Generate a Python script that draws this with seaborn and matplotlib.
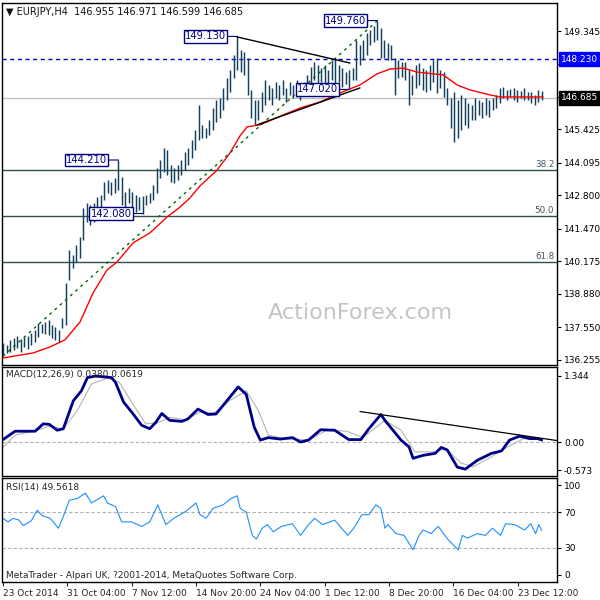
import numpy as np
import matplotlib
matplotlib.use("Agg")
import matplotlib.pyplot as plt
import matplotlib.transforms as mtransforms
import seaborn as sns

# ---------------- data ----------------
# price bars: one sample every ~1.74 H4 bars
high = [136.93, 136.85, 137.05, 137.13, 137.21, 137.09, 137.17, 137.21, 137.33, 137.45,
        137.73, 137.69, 137.77, 137.85, 137.65, 137.57, 137.45, 137.93, 139.32, 140.63,
        140.43, 140.83, 141.15, 142.30, 142.50, 142.42, 142.50, 142.74, 142.82, 143.34,
        143.42, 143.34, 143.50, 144.21, 143.54, 142.94, 143.10, 142.94, 142.82, 142.74,
        142.78, 142.82, 142.90, 143.22, 143.90, 144.21, 144.69, 144.61, 144.01, 143.90,
        144.01, 144.21, 144.53, 144.69, 145.01, 145.41, 146.40, 145.61, 145.49, 145.80,
        146.28, 146.60, 146.68, 147.08, 147.48, 147.79, 148.39, 149.13, 148.59, 148.51,
        148.27, 147.00, 146.60, 146.60, 146.92, 147.40, 147.20, 147.08, 147.32, 147.20,
        147.40, 147.08, 147.32, 147.20, 147.40, 147.28, 147.32, 147.60, 147.91, 148.11,
        147.99, 147.87, 147.99, 147.79, 148.19, 148.27, 147.99, 147.87, 147.71, 147.79,
        147.87, 148.99, 148.79, 148.99, 149.27, 149.39, 149.55, 149.76, 149.47, 148.99,
        148.87, 148.79, 148.27, 148.19, 148.11, 148.11, 147.79, 147.60, 147.99, 148.07,
        147.87, 147.79, 147.99, 148.19, 148.27, 147.79, 147.71, 147.08, 146.68, 146.92,
        146.60, 146.80, 146.68, 146.48, 146.40, 146.68, 146.60, 146.52, 146.68, 146.60,
        146.68, 146.80, 147.08, 147.12, 147.00, 147.04, 147.08, 147.00, 146.96, 147.08,
        146.92, 146.92, 146.80, 147.00, 146.97]
low = [136.41, 136.53, 136.57, 136.65, 136.73, 136.57, 136.77, 136.69, 136.85, 136.97,
       137.17, 137.33, 137.29, 137.25, 137.13, 137.05, 136.97, 137.53, 137.65, 139.44,
       139.92, 140.15, 140.31, 141.03, 141.75, 141.63, 141.75, 142.03, 142.22, 142.62,
       142.90, 142.82, 142.90, 143.02, 142.42, 142.34, 142.50, 142.22, 142.14, 142.22,
       142.08, 142.42, 142.50, 142.62, 142.90, 143.50, 143.74, 143.62, 143.34, 143.30,
       143.42, 143.62, 143.82, 144.01, 144.29, 144.61, 145.01, 145.09, 145.09, 145.21,
       145.41, 145.73, 145.88, 146.20, 146.60, 146.92, 147.48, 147.79, 147.71, 147.60,
       146.80, 145.88, 145.61, 145.80, 146.12, 146.40, 146.60, 146.40, 146.68, 146.60,
       146.80, 146.52, 146.80, 146.68, 146.72, 146.60, 146.80, 146.92, 147.20, 147.40,
       147.00, 147.32, 147.20, 147.20, 147.40, 147.20, 147.32, 147.10, 147.24, 147.02,
       147.40, 147.40, 147.99, 148.19, 148.39, 148.79, 148.91, 148.99, 148.27, 148.27,
       148.19, 148.19, 146.80, 147.48, 147.52, 147.40, 146.40, 146.80, 147.08, 147.20,
       147.00, 146.92, 147.00, 147.32, 146.88, 147.08, 146.72, 146.40, 145.49, 144.93,
       145.09, 145.41, 145.61, 145.49, 145.80, 145.80, 146.00, 145.88, 146.00, 145.92,
       146.20, 146.28, 146.48, 146.68, 146.60, 146.72, 146.60, 146.52, 146.68, 146.60,
       146.60, 146.48, 146.40, 146.52, 146.60]
BAR_STEP = 1.741  # H4 bars per sample

# moving average (H4 bar index, price)
ma_pos = [0, 15, 23.4, 30.8, 38.3, 44.8, 51.7, 56.7, 64.7, 73.1,
          81.6, 88.1, 93.0, 98.0, 106.5, 112.9, 117.9, 121.4, 127.9, 139.3,
          147.8, 157.7, 167.7, 177.6, 186.1, 192.5, 199.0, 206.0, 213.9, 218.9,
          225.9, 232.3, 242.3, 247.3, 268.7]
ma_val = [136.33, 136.53, 136.77, 137.05, 137.76, 138.92, 139.83, 140.15, 140.91, 141.31,
          141.94, 142.34, 142.70, 143.18, 143.81, 144.49, 145.17, 145.53, 145.61, 146.00,
          146.28, 146.52, 146.88, 147.20, 147.64, 147.83, 147.87, 147.71, 147.64, 147.60,
          147.20, 147.00, 146.80, 146.72, 146.72]

# trend lines (H4 bar index, value)
green_pos, green_val = [0, 186.3], [136.40, 149.76]
upper_pos, upper_val = [116.4, 172.6], [149.11, 148.07]
lower_pos, lower_val = [126.4, 177.6], [145.61, 147.08]

# price labels: value and sample index of the bar they point at
label_vals = [149.130, 149.760, 147.020, 144.210, 142.080]
label_idx = [67, 107, 99, 33, 40]

resist_level = 148.230
last_price = 146.685
fib_levels = [143.81, 141.98, 140.15]
fib_names = ["38.2", "50.0", "61.8"]
price_ticks = [149.345, 148.050, 146.720, 145.425, 144.095, 142.800, 141.470,
               140.175, 138.880, 137.550, 136.255]
price_ticklabels = ["149.345", "", "", "145.425", "144.095", "142.800", "141.470",
                    "140.175", "138.880", "137.550", "136.255"]

# MACD
macd_pos = [0, 6, 16, 20, 23, 27, 30, 35, 39, 42, 46, 54, 56, 60, 64, 69, 73, 76, 79, 83,
            89, 92, 97, 102, 106, 110, 117, 121, 125, 128, 132, 138, 144, 148, 152, 158,
            165, 172, 178, 182, 188, 190, 198, 202, 204, 209, 215, 218, 221, 226, 230,
            236, 243, 248, 252, 257, 262, 266, 268]
macd_val = [0.05, 0.22, 0.22, 0.37, 0.36, 0.24, 0.27, 0.84, 1.04, 1.31, 1.34, 1.31, 1.21,
            0.81, 0.61, 0.34, 0.27, 0.40, 0.58, 0.44, 0.42, 0.47, 0.67, 0.56, 0.57, 0.77,
            1.12, 0.97, 0.30, 0.04, 0.09, 0.06, 0.09, 0.00, 0.04, 0.25, 0.24, 0.05, 0.05,
            0.27, 0.56, 0.44, 0.04, -0.10, -0.33, -0.27, -0.23, -0.11, -0.16, -0.51, -0.55,
            -0.37, -0.23, -0.18, 0.04, 0.12, 0.07, 0.07, 0.04]
signal_pos = [0, 6, 17, 23, 30, 37, 44, 52, 58, 64, 71, 77, 83, 91, 98, 105, 113, 121, 127,
              132, 140, 152, 161, 171, 179, 190, 198, 205, 215, 220, 228, 234, 243, 251,
              259, 268]
signal_val = [-0.11, 0.14, 0.24, 0.32, 0.27, 0.64, 1.18, 1.30, 1.21, 0.81, 0.37, 0.39, 0.50,
              0.45, 0.61, 0.59, 0.85, 1.04, 0.64, 0.14, 0.07, 0.04, 0.24, 0.22, 0.09, 0.44,
              0.24, -0.20, -0.20, -0.13, -0.43, -0.50, -0.30, -0.10, 0.07, 0.06]
macd_trend_pos, macd_trend_val = [177.6, 275.6], [0.62, 0.03]
macd_ticks = [1.344, 0.0, -0.573]
macd_ticklabels = ["1.344", "0.00", "-0.573"]

# RSI
rsi_pos = [0, 2.5, 5, 8, 10, 14, 17, 19.5, 23.5, 27.5, 30, 33, 37, 41, 44, 50, 52, 56, 59,
           64, 69, 73, 77, 81, 85, 90.5, 96, 98, 101, 104.5, 109.5, 113.5, 116.5, 118, 121,
           124, 126, 129, 131.5, 134.5, 138.5, 144, 148, 152, 155, 159, 165, 171.5, 174.5,
           178.5, 182, 185.5, 188, 190, 191.5, 195.5, 199.5, 204, 207, 209, 213, 216.5,
           221.5, 226.5, 228.5, 231, 236, 240, 243.5, 247.5, 250, 254.5, 259.5, 262.5, 265,
           266.5, 268]
rsi_val = [63, 59, 63, 61, 55, 60, 72, 66, 63, 52, 65, 83, 85, 91, 80, 88, 80, 76, 59, 59,
           54, 59, 78, 56, 63, 70, 80, 67, 63, 74, 78, 85, 88, 74, 70, 44, 40, 52, 56, 48,
           54, 57, 44, 56, 63, 56, 61, 44, 52, 67, 67, 78, 74, 52, 56, 46, 44, 28, 44, 50,
           46, 54, 39, 28, 44, 41, 46, 44, 52, 44, 57, 56, 50, 57, 46, 56, 49.56]
rsi_ticks = [100, 70, 30, 0]

# x axis
x_tick_pos = [0, 32, 64, 96, 128, 160, 192, 224, 256]
x_tick_labels = ["23 Oct 2014", "31 Oct 04:00", "7 Nov 12:00", "14 Nov 20:00",
                 "24 Nov 04:00", "1 Dec 12:00", "8 Dec 20:00", "16 Dec 04:00",
                 "23 Dec 12:00"]

# ---------------- style ----------------
sns.set_style("white")
plt.rcParams['font.family'] = ['DejaVu Sans']
BAR = "#133f5c"
NAVY = "#000080"
FS = 6.5

W = 600.0
fig = plt.figure(figsize=(6, 6), dpi=100)
fig.patch.set_facecolor("white")


def px_axes(top, bottom, left=2, right=557):
    return fig.add_axes([left / W, 1 - bottom / W, (right - left) / W, (bottom - top) / W])


ax1 = px_axes(3, 365)
ax2 = px_axes(367, 476)
ax3 = px_axes(478, 582)

pos = np.arange(len(high)) * BAR_STEP

for ax in (ax1, ax2, ax3):
    ax.set_xlim(-0.5, 275.6)
    ax.yaxis.tick_right()
    ax.tick_params(axis='y', direction='out', length=3, width=0.8, labelsize=FS, pad=2,
                   colors='black', right=True, left=False)
    for s in ax.spines.values():
        s.set_color('black')
        s.set_linewidth(1.0)
    ax.set_facecolor('white')

# ---------------- price panel ----------------
ax1.set_ylim(136.05, 150.46)
blend1 = mtransforms.blended_transform_factory(ax1.transAxes, ax1.transData)
for lvl, name in zip(fib_levels, fib_names):
    ax1.axhline(lvl, color="#2f4f4f", lw=1.0, zorder=1)
    ax1.text(0.995, lvl + 0.04, name, transform=blend1,
             ha='right', va='bottom', fontsize=6.3, color='#46565f', zorder=2)
ax1.axhline(last_price, color="#c0c0c0", lw=1.0, zorder=1)
ax1.axhline(resist_level, color="#0000cd", lw=1.0, ls=(0, (3, 2.5)), zorder=1)

ax1.text(0.645, 0.144, "ActionForex.com", transform=ax1.transAxes, fontsize=16,
         color="#c4c4c4", ha='center', va='center', zorder=0)

ax1.vlines(pos, low, high, color=BAR, lw=1.05, zorder=3)
sns.lineplot(x=ma_pos, y=ma_val, ax=ax1, color="#ff0000", lw=1.0, estimator=None,
             sort=False, zorder=4)
ax1.plot(green_pos, green_val, color="#006400", lw=1.0, ls=(0, (2, 3)), zorder=4)
ax1.plot(upper_pos, upper_val, color="black", lw=1.0, zorder=4)
ax1.plot(lower_pos, lower_val, color="black", lw=1.0, zorder=4)

for val, idx in zip(label_vals, label_idx):
    ax1.annotate(f"{val:.3f}", xy=(pos[idx], val), xytext=(-32, 0),
                 textcoords='offset pixels', ha='center', va='center', fontsize=7.2,
                 color=NAVY, zorder=6,
                 bbox=dict(boxstyle='square,pad=0.12', fc='white', ec=NAVY, lw=1.0),
                 arrowprops=dict(arrowstyle='-', color=NAVY, lw=0.8, shrinkA=0, shrinkB=0))

ax1.set_yticks(price_ticks)
ax1.set_yticklabels(price_ticklabels)
ax1.set_xticks([])
ax1.text(1.008, resist_level, "148.230", transform=blend1, ha='left', va='center',
         fontsize=FS, color='white', clip_on=False, zorder=10,
         bbox=dict(boxstyle='square,pad=0.25', fc='#0000ff', ec='#0000ff'))
ax1.text(1.008, last_price, "146.685", transform=blend1, ha='left', va='center',
         fontsize=FS, color='white', clip_on=False, zorder=10,
         bbox=dict(boxstyle='square,pad=0.25', fc='black', ec='black'))
ax1.text(0.007, 0.975, "\u25BC EURJPY,H4  146.955 146.971 146.599 146.685",
         transform=ax1.transAxes, fontsize=7, va='center', ha='left', color='#111111')

# ---------------- MACD panel ----------------
ax2.set_ylim(-0.69, 1.525)
ax2.axhline(0, color="#b0b0b0", lw=0.8, ls=(0, (3, 2)))
sns.lineplot(x=signal_pos, y=signal_val, ax=ax2, color="#b4b4b4", lw=0.8,
             estimator=None, sort=False)
sns.lineplot(x=macd_pos, y=macd_val, ax=ax2, color="#00008b", lw=2.0,
             estimator=None, sort=False)
ax2.plot(macd_trend_pos, macd_trend_val, color='black', lw=0.9)
ax2.set_yticks(macd_ticks)
ax2.set_yticklabels(macd_ticklabels)
ax2.set_xticks([])
ax2.text(0.007, 0.927, "MACD(12,26,9) 0.0380 0.0619", transform=ax2.transAxes,
         fontsize=FS, va='center', ha='left')

# ---------------- RSI panel ----------------
ax3.set_ylim(-7.8, 107.8)
ax3.axhline(70, color="#b0b0b0", lw=0.8, ls=(0, (3, 2)))
ax3.axhline(30, color="#b0b0b0", lw=0.8, ls=(0, (3, 2)))
sns.lineplot(x=rsi_pos, y=rsi_val, ax=ax3, color="#1e90ff", lw=0.8,
             estimator=None, sort=False)
ax3.set_yticks(rsi_ticks)
ax3.set_yticklabels([str(t) for t in rsi_ticks])
ax3.set_xticks(x_tick_pos)
ax3.set_xticklabels(x_tick_labels, ha='left')
ax3.tick_params(axis='x', direction='out', length=3, width=0.8, labelsize=FS, pad=2,
                bottom=True)
ax3.text(0.007, 0.913, "RSI(14) 49.5618", transform=ax3.transAxes, fontsize=FS,
         va='center', ha='left')
ax3.text(0.007, 0.067, "MetaTrader - Alpari UK, ?2001-2014, MetaQuotes Software Corp.",
         transform=ax3.transAxes, fontsize=FS, va='center', ha='left')

for ax in (ax1, ax2, ax3):
    ax.set_xlabel("")
    ax.set_ylabel("")
    if ax.get_legend() is not None:
        ax.get_legend().remove()

fig.savefig("out.png", dpi=100, facecolor="white")
